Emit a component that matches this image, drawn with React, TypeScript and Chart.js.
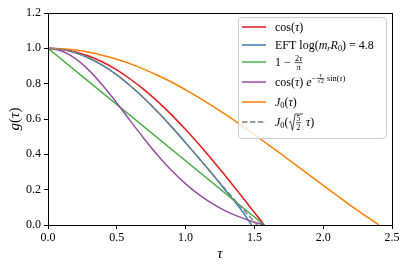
import { useEffect, useRef } from 'react';
import { Chart, registerables } from 'chart.js';

Chart.register(...registerables);

// ---------- data ----------
const TAU = [0, 0.1, 0.2, 0.3, 0.4, 0.5, 0.6, 0.7, 0.8, 0.9, 1.0, 1.1, 1.2, 1.3, 1.4, 1.5, 1.5708];
const COS_VALUES = [1, 0.995, 0.980, 0.955, 0.921, 0.878, 0.825, 0.765, 0.697, 0.622, 0.540, 0.454, 0.362, 0.268, 0.170, 0.071, 0];
const DAMPED_VALUES = [1, 0.985, 0.942, 0.874, 0.788, 0.691, 0.588, 0.487, 0.392, 0.307, 0.233, 0.170, 0.118, 0.076, 0.043, 0.016, 0];

const LINEAR_TAU = [0, 1.5708];
const LINEAR_VALUES = [1, 0];

const EFT_TAU = [0, 0.1, 0.2, 0.3, 0.4, 0.5, 0.6, 0.7, 0.8, 0.9, 1.0, 1.1, 1.2, 1.3, 1.4, 1.48];
const EFT_VALUES = [1, 0.994, 0.975, 0.944, 0.902, 0.850, 0.787, 0.716, 0.638, 0.554, 0.466, 0.375, 0.283, 0.186, 0.090, 0];

const BESSEL_TAU = [0, 0.1, 0.2, 0.3, 0.4, 0.5, 0.6, 0.7, 0.8, 0.9, 1.0, 1.1, 1.2, 1.3, 1.4, 1.5, 1.6, 1.7, 1.8, 1.9, 2.0, 2.1, 2.2, 2.3, 2.4, 2.405];
const BESSEL_VALUES = [1, 0.998, 0.990, 0.978, 0.960, 0.938, 0.912, 0.881, 0.846, 0.808, 0.765, 0.720, 0.671, 0.620, 0.567, 0.512, 0.455, 0.398, 0.340, 0.282, 0.224, 0.167, 0.110, 0.056, 0.003, 0];

const SCALED_TAU = [0, 0.1, 0.2, 0.3, 0.4, 0.5, 0.6, 0.7, 0.8, 0.9, 1.0, 1.1, 1.2, 1.3, 1.4, 1.5, 1.521];
const SCALED_VALUES = [1, 0.994, 0.975, 0.945, 0.902, 0.850, 0.787, 0.716, 0.638, 0.554, 0.466, 0.375, 0.283, 0.192, 0.103, 0.018, 0];

const X_TICKS = [0, 0.5, 1.0, 1.5, 2.0, 2.5];
const Y_TICKS = [0, 0.2, 0.4, 0.6, 0.8, 1.0, 1.2];

// ---------- rich text ----------
const SERIF = '"Liberation Serif", "DejaVu Serif", serif';

type Rich = {
  t?: string;
  it?: boolean;
  sc?: number;
  dy?: number;
  frac?: [Rich[], Rich[]];
  sqrt?: Rich[];
  grp?: Rich[];
};

const LEGEND_LABELS: Rich[][] = [
  [{ t: 'cos(' }, { t: 'τ', it: true }, { t: ')' }],
  [
    { t: 'EFT log(' }, { t: 'm', it: true }, { t: 'r', it: true, sc: 0.7, dy: 0.2 },
    { t: 'R', it: true }, { t: '0', sc: 0.7, dy: 0.2 }, { t: ') = 4.8' },
  ],
  [{ t: '1 − ' }, { frac: [[{ t: '2' }, { t: 'τ', it: true }], [{ t: 'π', it: true }]], sc: 0.7 }],
  [
    { t: 'cos(' }, { t: 'τ', it: true }, { t: ') ' }, { t: 'e', it: true },
    {
      grp: [
        { t: '−' },
        { frac: [[{ t: 'τ', it: true }], [{ t: '√2' }]], sc: 0.75 },
        { t: ' sin(' }, { t: 'τ', it: true }, { t: ')' },
      ],
      sc: 0.7,
      dy: -0.45,
    },
  ],
  [{ t: 'J', it: true }, { t: '0', sc: 0.7, dy: 0.2 }, { t: '(' }, { t: 'τ', it: true }, { t: ')' }],
  [
    { t: 'J', it: true }, { t: '0', sc: 0.7, dy: 0.2 }, { t: '(' },
    { sqrt: [{ frac: [[{ t: '5' }], [{ t: '2' }]], sc: 0.7 }] },
    { t: ' ' }, { t: 'τ', it: true }, { t: ')' },
  ],
];

const X_TITLE: Rich[] = [{ t: 'τ', it: true }];
const Y_TITLE: Rich[] = [{ t: 'g', it: true }, { t: '(' }, { t: 'τ', it: true }, { t: ')' }];

function fontOf(size: number, italic?: boolean) {
  return `${italic ? 'italic ' : ''}${size}px ${SERIF}`;
}

function richWidth(ctx: CanvasRenderingContext2D, items: Rich[], size: number): number {
  let w = 0;
  for (const it of items) w += itemWidth(ctx, it, size);
  return w;
}

function itemWidth(ctx: CanvasRenderingContext2D, it: Rich, size: number): number {
  const s = size * (it.sc ?? 1);
  if (it.frac) return Math.max(richWidth(ctx, it.frac[0], s), richWidth(ctx, it.frac[1], s)) + s * 0.3;
  if (it.sqrt) return size * 0.65 + richWidth(ctx, it.sqrt, s);
  if (it.grp) return richWidth(ctx, it.grp, s);
  ctx.font = fontOf(s, it.it);
  return ctx.measureText(it.t ?? '').width;
}

function drawRich(ctx: CanvasRenderingContext2D, items: Rich[], x: number, y: number, size: number): number {
  for (const it of items) {
    const s = size * (it.sc ?? 1);
    const yy = y + (it.dy ?? 0) * size;
    if (it.frac) {
      const wn = richWidth(ctx, it.frac[0], s);
      const wd = richWidth(ctx, it.frac[1], s);
      const w = Math.max(wn, wd) + s * 0.3;
      const axis = yy - size * 0.27;
      drawRich(ctx, it.frac[0], x + (w - wn) / 2, axis - s * 0.22, s);
      drawRich(ctx, it.frac[1], x + (w - wd) / 2, axis + s * 0.82, s);
      ctx.fillRect(x + s * 0.1, axis - 0.35, w - s * 0.2, 0.7);
      x += w;
    } else if (it.sqrt) {
      const wi = richWidth(ctx, it.sqrt, s);
      const top = yy - size * 1.0;
      const bot = yy + size * 0.35;
      const x0 = x + size * 0.05;
      ctx.beginPath();
      ctx.moveTo(x0, yy - size * 0.3);
      ctx.lineTo(x0 + size * 0.12, yy - size * 0.38);
      ctx.lineTo(x0 + size * 0.28, bot);
      ctx.lineTo(x0 + size * 0.5, top);
      ctx.lineTo(x0 + size * 0.6 + wi, top);
      ctx.lineWidth = 0.7;
      ctx.strokeStyle = ctx.fillStyle as string;
      ctx.stroke();
      drawRich(ctx, it.sqrt, x + size * 0.55, yy, s);
      x += size * 0.65 + wi;
    } else if (it.grp) {
      x = drawRich(ctx, it.grp, x, yy, s);
    } else {
      ctx.font = fontOf(s, it.it);
      ctx.fillText(it.t ?? '', x, yy);
      x += ctx.measureText(it.t ?? '').width;
    }
  }
  return x;
}

// ---------- styles ----------
const COLORS = ['#e41a1c', '#377eb8', '#4daf4a', '#984ea3', '#ff7f00', '#808080'];
const DASHES: number[][] = [[], [], [], [], [], [5.5, 2.4]];
const LEGEND_ROWS = [10, 28, 45, 65, 85, 105];
const LEGEND_FONT = 12;

function pts(xs: number[], ys: number[]) {
  return xs.map((x, i) => ({ x, y: ys[i] }));
}

function align(v: number) {
  return Math.round(v - 0.5) + 0.5;
}

const decorPlugin = {
  id: 'decor',
  afterDraw(chart: any) {
    const ctx: CanvasRenderingContext2D = chart.ctx;
    const a = chart.chartArea;
    ctx.save();
    // spines
    ctx.strokeStyle = '#000';
    ctx.lineWidth = 1;
    const l = align(a.left), r = align(a.right), t = align(a.top), b = align(a.bottom);
    ctx.strokeRect(l, t, r - l, b - t);

    // legend
    const bw = 148, bh = 121;
    const bx = a.right - 154;
    const by = a.top + 4;
    ctx.beginPath();
    ctx.roundRect(bx + 0.5, by + 0.5, bw, bh, 3);
    ctx.fillStyle = 'rgba(255,255,255,0.8)';
    ctx.fill();
    ctx.strokeStyle = '#cccccc';
    ctx.lineWidth = 1;
    ctx.stroke();

    ctx.textAlign = 'left';
    ctx.textBaseline = 'alphabetic';
    LEGEND_LABELS.forEach((label, i) => {
      const cy = by + LEGEND_ROWS[i];
      ctx.beginPath();
      ctx.setLineDash(DASHES[i]);
      ctx.strokeStyle = COLORS[i];
      ctx.lineWidth = 1.5;
      ctx.moveTo(bx + 4, cy);
      ctx.lineTo(bx + 28, cy);
      ctx.stroke();
      ctx.setLineDash([]);
      ctx.fillStyle = '#000';
      drawRich(ctx, label, bx + 37, cy + 4, LEGEND_FONT);
    });

    // axis titles
    ctx.fillStyle = '#000';
    const tw = richWidth(ctx, X_TITLE, 15);
    drawRich(ctx, X_TITLE, (a.left + a.right) / 2 - tw / 2, 258, 15);
    const yw = richWidth(ctx, Y_TITLE, 15);
    ctx.translate(19, (a.top + a.bottom) / 2);
    ctx.rotate(-Math.PI / 2);
    drawRich(ctx, Y_TITLE, -yw / 2, 0, 15);
    ctx.restore();
  },
};

export default function App() {
  const ref = useRef<HTMLCanvasElement>(null);

  useEffect(() => {
    const series = [
      pts(TAU, COS_VALUES),
      pts(EFT_TAU, EFT_VALUES),
      pts(LINEAR_TAU, LINEAR_VALUES),
      pts(TAU, DAMPED_VALUES),
      pts(BESSEL_TAU, BESSEL_VALUES),
      pts(SCALED_TAU, SCALED_VALUES),
    ];
    const tickFont = { family: SERIF, size: 12 };
    const chart = new Chart(ref.current!, {
      type: 'line',
      data: {
        datasets: series.map((data, i) => ({
          data,
          borderColor: COLORS[i],
          backgroundColor: COLORS[i],
          borderWidth: 1.5,
          borderDash: DASHES[i],
          pointRadius: 0,
          fill: false,
          cubicInterpolationMode: 'monotone' as const,
          order: 6 - i,
        })),
      },
      options: {
        animation: false,
        responsive: false,
        devicePixelRatio: 1,
        layout: { padding: { top: 13, right: 15, left: 0, bottom: 0 } },
        plugins: { legend: { display: false }, tooltip: { enabled: false } },
        scales: {
          x: {
            type: 'linear',
            min: 0,
            max: 2.5,
            afterBuildTicks: (s: any) => { s.ticks = X_TICKS.map((v) => ({ value: v })); },
            afterFit: (s: any) => { s.height = 44; },
            ticks: {
              color: '#000',
              font: tickFont,
              padding: 2,
              maxRotation: 0,
              autoSkip: false,
              callback: (v: any) => Number(v).toFixed(1),
            },
            grid: { drawOnChartArea: false, drawTicks: true, tickLength: 4, tickColor: '#000', tickWidth: 1 },
            border: { display: false },
          },
          y: {
            type: 'linear',
            min: 0,
            max: 1.2,
            afterBuildTicks: (s: any) => { s.ticks = Y_TICKS.map((v) => ({ value: v })); },
            afterFit: (s: any) => { s.width = 48; },
            ticks: {
              color: '#000',
              font: tickFont,
              padding: 3,
              autoSkip: false,
              callback: (v: any) => Number(v).toFixed(1),
            },
            grid: { drawOnChartArea: false, drawTicks: true, tickLength: 4, tickColor: '#000', tickWidth: 1 },
            border: { display: false },
          },
        },
      },
      plugins: [decorPlugin],
    });
    return () => chart.destroy();
  }, []);

  return (
    <div style={{ position: 'fixed', left: 0, top: 0, width: 407, height: 269, background: '#fff' }}>
      <canvas ref={ref} width={407} height={269} style={{ display: 'block' }} />
    </div>
  );
}
